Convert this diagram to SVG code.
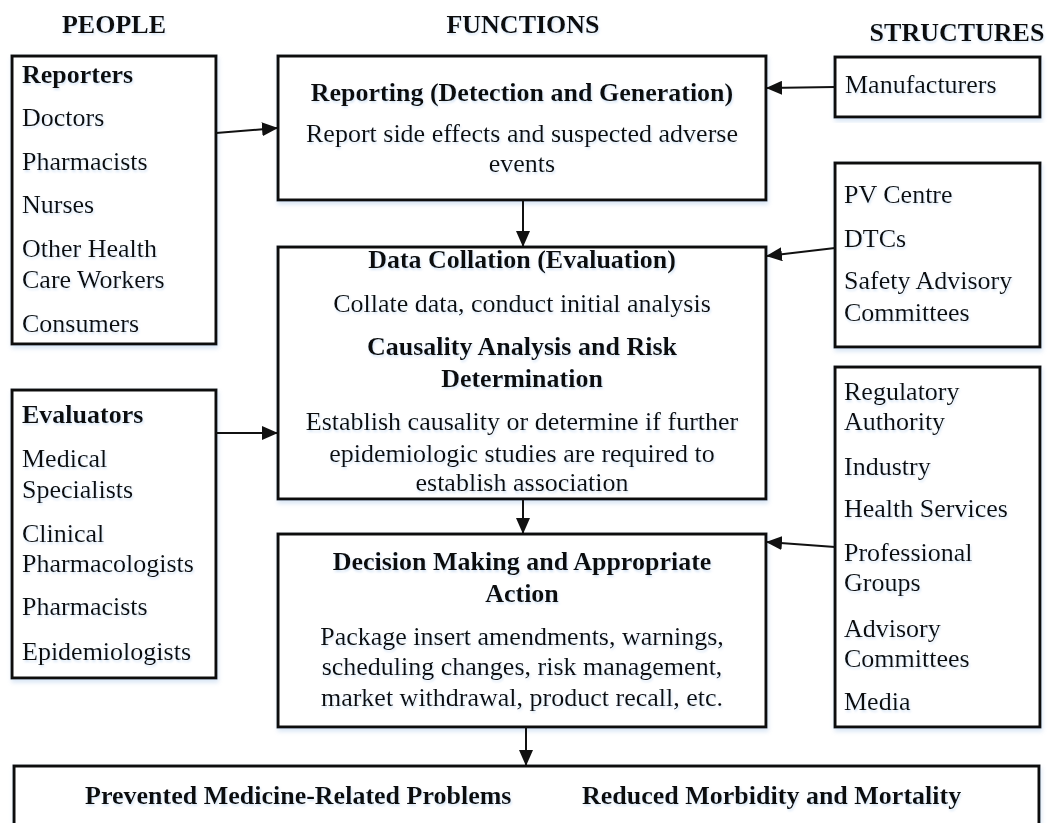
<svg xmlns="http://www.w3.org/2000/svg" width="1051" height="823" viewBox="0 0 1051 823">
  <style>
    text { font-family: "Liberation Serif", "Times New Roman", serif; font-size: 26px; fill: #111; filter: url(#glow); }
    .b { font-weight: bold; }
    .c { text-anchor: middle; }
    .box { fill: #fff; stroke: #111; stroke-width: 3; filter: url(#shade); }
    .wire { stroke: #111; stroke-width: 2; fill: none; marker-end: url(#head); }
  </style>
  <defs>
    <filter id="shade" x="-5%" y="-5%" width="110%" height="115%">
      <feDropShadow dx="1" dy="3" stdDeviation="2" flood-color="#a9c6e8" flood-opacity="0.45"/>
    </filter>
    <filter id="glow" x="-5%" y="-20%" width="110%" height="150%">
      <feDropShadow dx="1" dy="2" stdDeviation="1.2" flood-color="#9fc2ea" flood-opacity="0.4"/>
    </filter>
    <marker id="head" markerUnits="userSpaceOnUse" markerWidth="16" markerHeight="14" refX="15" refY="7" orient="auto">
      <path d="M0,0 L16,7 L0,14 z" fill="#111"/>
    </marker>
  </defs>

  <rect width="1051" height="823" fill="#fff"/>

  <!-- column headings -->
  <g id="headings">
    <text class="b c" x="114" y="33">PEOPLE</text>
    <text class="b c" x="523" y="33">FUNCTIONS</text>
    <text class="b c" x="957" y="41">STRUCTURES</text>
  </g>

  <!-- people -->
  <g id="reporters">
    <rect class="box" x="12" y="56" width="204" height="288"/>
    <text class="b" x="22" y="83">Reporters</text>
    <text x="22" y="126">Doctors</text>
    <text x="22" y="170">Pharmacists</text>
    <text x="22" y="213">Nurses</text>
    <text x="22" y="257">Other Health</text>
    <text x="22" y="288">Care Workers</text>
    <text x="22" y="332">Consumers</text>
  </g>

  <g id="evaluators">
    <rect class="box" x="12" y="390" width="204" height="288"/>
    <text class="b" x="22" y="423">Evaluators</text>
    <text x="22" y="467">Medical</text>
    <text x="22" y="498">Specialists</text>
    <text x="22" y="542">Clinical</text>
    <text x="22" y="572">Pharmacologists</text>
    <text x="22" y="615">Pharmacists</text>
    <text x="22" y="660">Epidemiologists</text>
  </g>

  <!-- functions -->
  <g id="reporting">
    <rect class="box" x="278" y="56" width="488" height="144"/>
    <text class="b c" x="522" y="101">Reporting (Detection and Generation)</text>
    <text class="c" x="522" y="142">Report side effects and suspected adverse</text>
    <text class="c" x="522" y="172">events</text>
  </g>

  <g id="collation">
    <rect class="box" x="278" y="247" width="488" height="252"/>
    <text class="b c" x="522" y="268">Data Collation (Evaluation)</text>
    <text class="c" x="522" y="312">Collate data, conduct initial analysis</text>
    <text class="b c" x="522" y="355">Causality Analysis and Risk</text>
    <text class="b c" x="522" y="387">Determination</text>
    <text class="c" x="522" y="430">Establish causality or determine if further</text>
    <text class="c" x="522" y="462">epidemiologic studies are required to</text>
    <text class="c" x="522" y="491">establish association</text>
  </g>

  <g id="decision">
    <rect class="box" x="278" y="534" width="488" height="193"/>
    <text class="b c" x="522" y="570">Decision Making and Appropriate</text>
    <text class="b c" x="522" y="602">Action</text>
    <text class="c" x="522" y="645">Package insert amendments, warnings,</text>
    <text class="c" x="522" y="675">scheduling changes, risk management,</text>
    <text class="c" x="522" y="706">market withdrawal, product recall, etc.</text>
  </g>

  <!-- structures -->
  <g id="manufacturers">
    <rect class="box" x="835" y="57" width="205" height="60"/>
    <text x="845" y="93">Manufacturers</text>
  </g>

  <g id="centres">
    <rect class="box" x="835" y="163" width="205" height="184"/>
    <text x="844" y="203">PV Centre</text>
    <text x="844" y="247">DTCs</text>
    <text x="844" y="289">Safety Advisory</text>
    <text x="844" y="321">Committees</text>
  </g>

  <g id="authorities">
    <rect class="box" x="835" y="367" width="205" height="360"/>
    <text x="844" y="400">Regulatory</text>
    <text x="844" y="430">Authority</text>
    <text x="844" y="475">Industry</text>
    <text x="844" y="517">Health Services</text>
    <text x="844" y="561">Professional</text>
    <text x="844" y="591">Groups</text>
    <text x="844" y="637">Advisory</text>
    <text x="844" y="667">Committees</text>
    <text x="844" y="710">Media</text>
  </g>

  <!-- outcome -->
  <g id="outcome">
    <rect class="box" x="14" y="766" width="1025" height="80"/>
    <text class="b" x="85" y="804">Prevented Medicine-Related Problems</text>
    <text class="b" x="582" y="804">Reduced Morbidity and Mortality</text>
  </g>

  <!-- connectors -->
  <g id="connectors">
    <line class="wire" x1="216" y1="133" x2="277" y2="128"/>
    <line class="wire" x1="835" y1="87" x2="767" y2="88"/>
    <line class="wire" x1="523" y1="200" x2="523" y2="246"/>
    <line class="wire" x1="835" y1="248" x2="767" y2="256"/>
    <line class="wire" x1="216" y1="433" x2="277" y2="433"/>
    <line class="wire" x1="523" y1="499" x2="523" y2="533"/>
    <line class="wire" x1="835" y1="547" x2="767" y2="542"/>
    <line class="wire" x1="526" y1="727" x2="526" y2="765"/>
  </g>
</svg>
